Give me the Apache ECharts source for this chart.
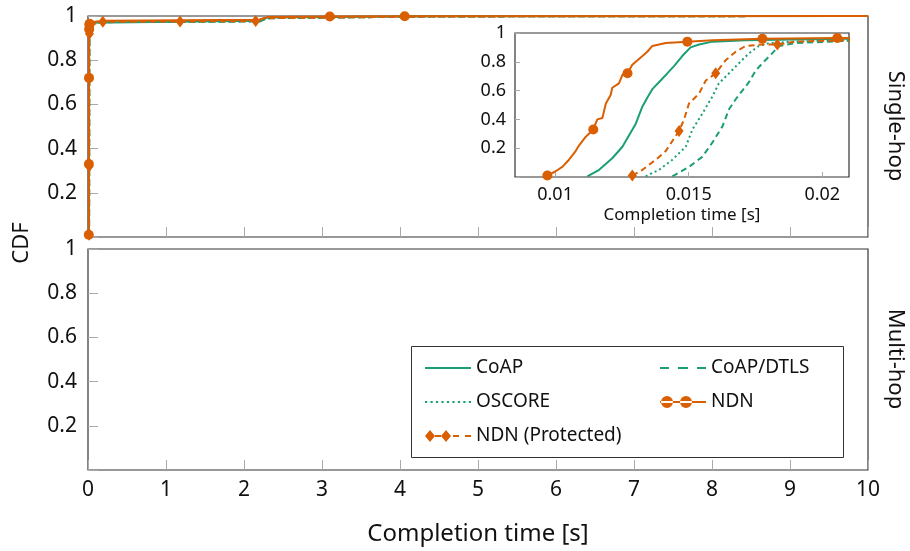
<!DOCTYPE html>
<html>
<head>
<meta charset="utf-8">
<script src="https://cdn.jsdelivr.net/npm/echarts@6/dist/echarts.min.js"></script>
<style>
  html, body { margin: 0; padding: 0; background: #fff; }
  #chart { width: 910px; height: 551px; }
</style>
</head>
<body>
<div id="chart"></div>
<script>
// CDF points [completion time (s), fraction]
const coap = [[0.01121, 0.005], [0.01165, 0.05], [0.01214, 0.13], [0.01252, 0.21], [0.01277, 0.29], [0.01302, 0.37],
    [0.01327, 0.49], [0.01345, 0.55], [0.01364, 0.61], [0.01395, 0.67], [0.01420, 0.72], [0.01445, 0.77],
    [0.01476, 0.84], [0.01507, 0.90], [0.01539, 0.92], [0.01589, 0.94], [0.01713, 0.95], [0.02087, 0.96],
    [0.03, 0.97], [2.2, 0.978], [2.3, 0.993], [4.5, 0.999], [10, 1]];
const coapDtls = [[0.01439, 0.005], [0.01501, 0.07], [0.01551, 0.14], [0.01589, 0.24], [0.01626, 0.35], [0.01651, 0.47],
    [0.01676, 0.54], [0.01701, 0.60], [0.01726, 0.66], [0.01751, 0.74], [0.01776, 0.79], [0.01813, 0.86],
    [0.01838, 0.91], [0.01900, 0.93], [0.02025, 0.94], [0.02087, 0.945],
    [0.03, 0.96], [0.1, 0.972], [2.2, 0.975], [2.3, 0.99], [4.5, 0.998], [10, 1]];
const oscore = [[0.01339, 0.005], [0.01389, 0.05], [0.01439, 0.12], [0.01489, 0.21], [0.01514, 0.33], [0.01551, 0.44],
    [0.01589, 0.56], [0.01613, 0.65], [0.01651, 0.72], [0.01688, 0.79], [0.01726, 0.86], [0.01763, 0.91],
    [0.01800, 0.93], [0.01900, 0.94], [0.02087, 0.95],
    [0.03, 0.96], [0.1, 0.972], [2.2, 0.976], [2.3, 0.99], [4.5, 0.998], [10, 1]];
const ndn = [[0.00971, 0.01], [0.01002, 0.04], [0.01027, 0.07], [0.01052, 0.12], [0.01077, 0.18], [0.01090, 0.22],
    [0.01115, 0.28], [0.01143, 0.33], [0.01158, 0.40], [0.01177, 0.41], [0.01190, 0.51], [0.01208, 0.57],
    [0.01214, 0.62], [0.01239, 0.65], [0.01252, 0.71], [0.01271, 0.72], [0.01289, 0.78], [0.01327, 0.84],
    [0.01345, 0.87], [0.01364, 0.91], [0.01414, 0.93], [0.01495, 0.94], [0.01589, 0.95], [0.01776, 0.96],
    [0.02056, 0.965], [0.03, 0.972], [0.2, 0.978], [2.2, 0.983], [2.3, 0.995], [3.1, 0.998], [4.06, 0.999], [10, 1]];
const ndnProt = [[0.01289, 0.01], [0.01327, 0.05], [0.01377, 0.12], [0.01414, 0.18], [0.01464, 0.32], [0.01483, 0.40],
    [0.01501, 0.51], [0.01539, 0.58], [0.01564, 0.67], [0.01601, 0.72], [0.01638, 0.81], [0.01676, 0.87],
    [0.01713, 0.91], [0.01776, 0.92], [0.01832, 0.92], [0.01900, 0.94], [0.02087, 0.95],
    [0.03, 0.96], [0.19, 0.974], [1.18, 0.975], [2.15, 0.977], [2.25, 0.99], [4.5, 0.998], [10, 1]];

// x positions that carry a marker
const ndnMarkAt = [0.00971, 0.01143, 0.01271, 0.01495, 0.01776, 0.02056, 3.1, 4.06];
const ndnProtMarkAt = [0.01289, 0.01464, 0.01601, 0.01832, 0.19, 1.18, 2.15];

const mainTicks = [0, 1, 2, 3, 4, 5, 6, 7, 8, 9, 10];
const insetTicks = [0.01, 0.015, 0.02];

const GREEN = '#1b9e77';
const ORANGE = '#d95f02';
const FONT = 'Noto Sans';

const styles = {
    'CoAP': { data: coap, color: GREEN, type: 'solid' },
    'CoAP/DTLS': { data: coapDtls, color: GREEN, type: [6, 4] },
    'OSCORE': { data: oscore, color: GREEN, type: [2, 3] },
    'NDN': { data: ndn, color: ORANGE, type: 'solid' },
    'NDN (Protected)': { data: ndnProt, color: ORANGE, type: [6, 4] }
};

let dots = '';
for (let x = 0; x <= 44; x += 5) dots += 'M' + x + ',6H' + (x + 2) + 'V8H' + x + 'Z';
const icons = {
    'CoAP': 'path://M0,6H46V8H0Z',
    'CoAP/DTLS': 'path://M0,6H9V8H0Z M18,6H28V8H18Z M37,6H46V8H37Z',
    'OSCORE': 'path://' + dots,
    'NDN': 'path://M0,6H46V8H0Z M1,7a6,6 0 1,0 12,0a6,6 0 1,0 -12,0Z M20,7a6,6 0 1,0 12,0a6,6 0 1,0 -12,0Z',
    'NDN (Protected)': 'path://M0,7L5,1L10,7L5,13Z M16,7L21,1L26,7L21,13Z M10,6H16V8H10Z M28,6H34V8H28Z M40,6H46V8H40Z'
};

const series = [];
[0, 2].forEach(g => {
    Object.keys(styles).forEach(name => {
        const s = styles[name];
        series.push({
            name: name, type: 'line', xAxisIndex: g, yAxisIndex: g,
            data: s.data, showSymbol: false, symbol: 'none',
            lineStyle: { color: s.color, width: 2, type: s.type },
            itemStyle: { color: s.color }, animation: false, z: 2
        });
    });
    series.push({
        name: 'NDN', type: 'scatter', xAxisIndex: g, yAxisIndex: g,
        data: ndn.filter(p => ndnMarkAt.includes(p[0])),
        symbol: 'circle', symbolSize: 10, itemStyle: { color: ORANGE, opacity: 1 }, animation: false, z: 3
    });
    series.push({
        name: 'NDN (Protected)', type: 'scatter', xAxisIndex: g, yAxisIndex: g,
        data: ndnProt.filter(p => ndnProtMarkAt.includes(p[0])),
        symbol: 'diamond', symbolSize: [9, 12], itemStyle: { color: ORANGE, opacity: 1 }, animation: false, z: 3
    });
});

const yLabel = v => (v === 0 ? '' : String(v));
const frame = { show: true, borderColor: '#333', borderWidth: 1.2, backgroundColor: '#fff' };
const tick = len => ({ show: true, inside: true, length: len, lineStyle: { color: '#aaa', width: 1 } });

function mainX(grid, labels) {
    return {
        gridIndex: grid, type: 'value', min: 0, max: 10, interval: 1,
        axisLine: { show: false }, axisTick: tick(10), splitLine: { show: false },
        axisLabel: { show: labels, color: '#111', fontFamily: FONT, fontSize: 21, margin: 10 }
    };
}
function mainY(grid) {
    return {
        gridIndex: grid, type: 'value', min: 0, max: 1, interval: 0.2,
        axisLine: { show: false }, axisTick: tick(10), splitLine: { show: false },
        axisLabel: { color: '#111', fontFamily: FONT, fontSize: 21, margin: 11, formatter: yLabel }
    };
}

const xAxes = [mainX(0, false), mainX(1, true), {
    gridIndex: 2, type: 'value', min: 0.0085, max: 0.021,
    axisLine: { show: false }, splitLine: { show: false },
    axisTick: Object.assign(tick(5), { customValues: insetTicks }),
    axisLabel: { customValues: insetTicks, color: '#111', fontFamily: FONT, fontSize: 18, margin: 9 },
    name: 'Completion time [s]', nameLocation: 'middle', nameGap: 30,
    nameTextStyle: { color: '#111', fontFamily: FONT, fontSize: 17 }
}];
xAxes[1].name = 'Completion time [s]';
xAxes[1].nameLocation = 'middle';
xAxes[1].nameGap = 52;
xAxes[1].nameTextStyle = { color: '#111', fontFamily: FONT, fontSize: 24 };

const yAxes = [mainY(0), mainY(1), {
    gridIndex: 2, type: 'value', min: 0, max: 1, interval: 0.2,
    axisLine: { show: false }, axisTick: tick(5), splitLine: { show: false },
    axisLabel: { color: '#111', fontFamily: FONT, fontSize: 18, margin: 9, formatter: yLabel }
}];

const legendText = { color: '#111', fontFamily: FONT, fontSize: 19, lineHeight: 20 };
const legendBase = {
    orient: 'vertical', top: 358, itemWidth: 46, itemHeight: 14, itemGap: 14, padding: 0,
    textStyle: legendText, itemStyle: { borderWidth: 0 }, selectedMode: false
};

const chart = echarts.init(document.getElementById('chart'), null, { renderer: 'canvas' });
chart.setOption({
    animation: false,
    backgroundColor: '#fff',
    grid: [
        Object.assign({ left: 88, right: 42, top: 16, height: 221 }, frame),
        Object.assign({ left: 88, right: 42, top: 249, height: 221 }, frame),
        Object.assign({ left: 515, width: 334, top: 33, height: 144 }, frame)
    ],
    xAxis: xAxes,
    yAxis: yAxes,
    legend: [
        Object.assign({ left: 425, data: ['CoAP', 'OSCORE', 'NDN (Protected)'].map(n => ({ name: n, icon: icons[n] })) }, legendBase),
        Object.assign({ left: 660, data: ['CoAP/DTLS', 'NDN'].map(n => ({ name: n, icon: icons[n] })) }, legendBase)
    ],
    graphic: [
        { type: 'rect', shape: { x: 411.5, y: 346.5, width: 432, height: 111 },
          style: { fill: '#fff', stroke: '#333', lineWidth: 1 }, z: 1 },
        { type: 'text', x: 22, y: 243, rotation: Math.PI / 2,
          style: { text: 'CDF', fontFamily: FONT, fontSize: 22, fill: '#111', textAlign: 'center', textVerticalAlign: 'middle' } },
        { type: 'text', x: 895, y: 126, rotation: -Math.PI / 2,
          style: { text: 'Single-hop', fontFamily: FONT, fontSize: 22, fill: '#111', textAlign: 'center', textVerticalAlign: 'middle' } },
        { type: 'text', x: 895, y: 359, rotation: -Math.PI / 2,
          style: { text: 'Multi-hop', fontFamily: FONT, fontSize: 22, fill: '#111', textAlign: 'center', textVerticalAlign: 'middle' } }
    ],
    series: series
});
</script>
</body>
</html>
